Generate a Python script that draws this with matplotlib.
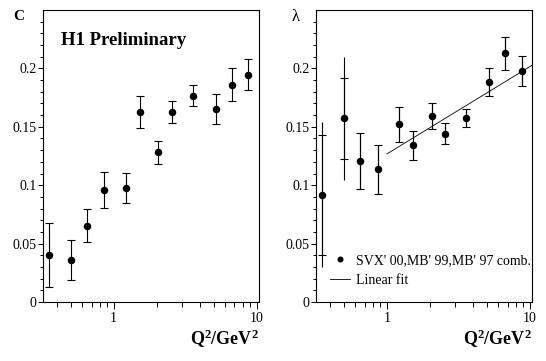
import matplotlib
matplotlib.use("Agg")
import matplotlib.pyplot as plt
import numpy as np
from matplotlib.ticker import FixedLocator, NullFormatter, FixedFormatter

plt.rcParams['font.family'] = ['Liberation Serif', 'DejaVu Serif']
plt.rcParams['mathtext.fontset'] = 'custom'
plt.rcParams['mathtext.bf'] = 'Liberation Serif:bold'
plt.rcParams['mathtext.rm'] = 'Liberation Serif:bold'
plt.rcParams['mathtext.default'] = 'bf'

# Q^2 bins (GeV^2)
q2 = [0.35, 0.5, 0.65, 0.86, 1.22, 1.53, 2.05, 2.56, 3.58, 5.16, 6.72, 8.77]

# left panel: C with errors
c_val = [0.0406, 0.0358, 0.0655, 0.0959, 0.0976, 0.1628, 0.1282, 0.1628, 0.1766, 0.1651, 0.1860, 0.1946]
c_err = [0.0274, 0.0172, 0.0143, 0.0157, 0.0125, 0.0138, 0.0100, 0.0095, 0.0088, 0.0126, 0.0143, 0.0133]

# right panel: lambda with stat and total errors
lam_val = [0.0918, 0.1573, 0.1210, 0.1136, 0.1520, 0.1342, 0.1591, 0.1442, 0.1573, 0.1880, 0.2129, 0.1977]
lam_stat = [0.0513, 0.0347, 0.0240, 0.0212, 0.0150, 0.0122, 0.0112, 0.0090, 0.0078, 0.0120, 0.0140, 0.0126]
lam_tot = [0.0620, 0.0528, 0.0240, 0.0212, 0.0150, 0.0122, 0.0112, 0.0090, 0.0078, 0.0120, 0.0140, 0.0126]

# linear fit end points
fit_q2 = [1.0, 10.4]
fit_lam = [0.1268, 0.2028]

fig = plt.figure(figsize=(5.46, 3.61), dpi=100)
ax1 = fig.add_axes([0.0788, 0.1634, 0.3956, 0.8089])
ax2 = fig.add_axes([0.5793, 0.1634, 0.3956, 0.8089])

yticks = [0, 0.05, 0.1, 0.15, 0.2]
ylabels = ['0', '0.05', '0.1', '0.15', '0.2']

for ax in (ax1, ax2):
    ax.set_xscale('log')
    ax.set_xlim(0.32, 10.4)
    ax.set_ylim(0, 0.25)
    ax.yaxis.set_major_locator(FixedLocator(yticks))
    ax.yaxis.set_major_formatter(FixedFormatter(ylabels))
    ax.yaxis.set_minor_locator(FixedLocator(np.arange(0.01, 0.25, 0.01)))
    ax.xaxis.set_major_locator(FixedLocator([1, 10]))
    ax.xaxis.set_major_formatter(FixedFormatter(['1', '10']))
    ax.xaxis.set_minor_locator(FixedLocator([0.4, 0.5, 0.6, 0.7, 0.8, 0.9, 2, 3, 4, 5, 6, 7, 8, 9]))
    ax.xaxis.set_minor_formatter(NullFormatter())
    ax.tick_params(axis='y', which='major', direction='out', length=3.8, width=0.7, pad=1, labelsize=10)
    ax.tick_params(axis='y', which='minor', direction='out', length=2.0, width=0.7)
    ax.tick_params(axis='x', which='major', direction='out', length=5, width=0.7, pad=2, labelsize=10)
    ax.tick_params(axis='x', which='minor', direction='out', length=3.4, width=0.7)
    for s in ax.spines.values():
        s.set_linewidth(0.8)
    ax.text(1.0, -0.147, '$Q^2$/GeV$^2$', transform=ax.transAxes, ha='right',
            va='baseline', fontsize=13, fontweight='bold')

ax1.errorbar(q2, c_val, yerr=c_err, fmt='o', color='black', ms=4.4,
             elinewidth=0.8, capsize=2.8, capthick=0.8)
ax1.text(0.083, 0.880, 'H1 Preliminary', transform=ax1.transAxes, fontsize=13.5,
         fontweight='bold', va='baseline')

ax2.errorbar(q2, lam_val, yerr=lam_tot, fmt='none', ecolor='black', elinewidth=0.8, capsize=0)
ax2.errorbar(q2, lam_val, yerr=lam_stat, fmt='none', ecolor='black', elinewidth=0.8,
             capsize=2.8, capthick=0.8)
pts, = ax2.plot(q2, lam_val, 'o', color='black', ms=4.4, label="SVX' 00,MB' 99,MB' 97 comb.")
fitl, = ax2.plot(fit_q2, fit_lam, '-', color='black', lw=0.6, label='Linear fit')
ax2.legend(handles=[pts, fitl], loc='lower left', bbox_to_anchor=(0.063, 0.052),
           frameon=False, fontsize=10, borderpad=0, borderaxespad=0,
           handlelength=1.45, handletextpad=0.43, labelspacing=0.5, markerscale=0.75)

fig.text(18.5 / 546, 1 - 16 / 361, 'C', ha='center', va='center', fontsize=11, fontweight='bold')
fig.text(296 / 546, 1 - 17 / 361, 'λ', ha='center', va='center', fontsize=12)

fig.savefig('out.png', dpi=100)
